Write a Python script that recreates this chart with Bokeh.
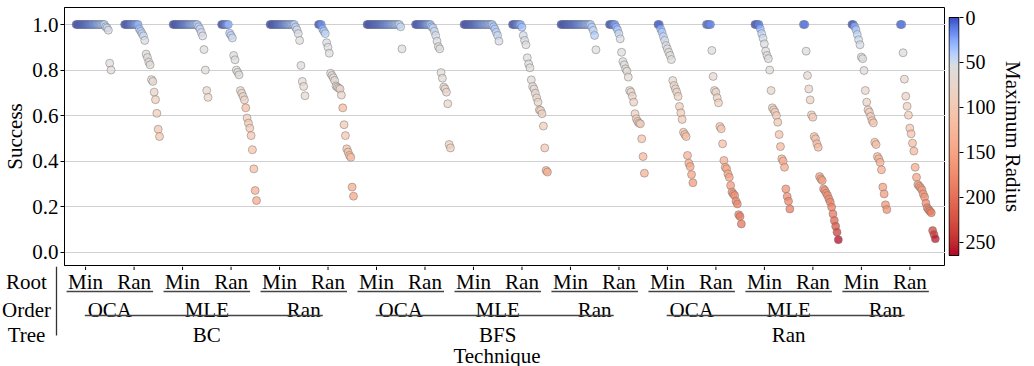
import numpy as np
from bokeh.plotting import figure
from bokeh.models import (ColumnDataSource, Range1d, LinearColorMapper, FixedTicker,
                          PrintfTickFormatter)
from bokeh.layouts import row, column
from bokeh.transform import transform
from bokeh.embed import file_html
from bokeh.resources import INLINE
from bokeh.core.properties import value

# ---------------- data ----------------
trees = ["BC", "BFS", "Ran"]
orders = ["OCA", "MLE", "Ran"]
roots = ["Min", "Ran"]
row_names = ["Root", "Order", "Tree"]
x_title = "Technique"
y_title = "Success"
cbar_title = "Maximum Radius"
y_ticks = [0.0, 0.2, 0.4, 0.6, 0.8, 1.0]
cbar_ticks = [0, 50, 100, 150, 200, 250]
radius_max = 265

# per tree: [OCA-Min, OCA-Ran, MLE-Min, MLE-Ran, Ran-Min, Ran-Ran]
bc_success = [
    [1.0, 1.0, 1.0, 1.0, 1.0, 1.0, 1.0, 1.0, 1.0, 1.0,
     1.0, 1.0, 1.0, 1.0, 1.0, 1.0, 1.0, 1.0, 1.0, 1.0,
     1.0, 1.0, 0.99, 0.985, 0.975, 0.83, 0.80],
    [1.0, 1.0, 1.0, 1.0, 1.0, 1.0, 1.0, 1.0, 1.0, 1.0, 1.0,
     0.98, 0.97, 0.96, 0.95, 0.93, 0.87, 0.855, 0.835, 0.823, 0.758,
     0.75, 0.703, 0.67, 0.61, 0.54, 0.508],
    [1.0, 1.0, 1.0, 1.0, 1.0, 1.0, 1.0, 1.0, 1.0, 1.0,
     1.0, 1.0, 1.0, 1.0, 1.0, 1.0, 1.0, 1.0, 1.0,
     0.99, 0.98, 0.965, 0.95, 0.89, 0.80, 0.71, 0.68],
    [1.0, 1.0, 1.0, 1.0, 1.0, 1.0,
     0.962, 0.952, 0.941, 0.864, 0.845, 0.80, 0.79, 0.779, 0.71, 0.698,
     0.684, 0.669, 0.634, 0.589, 0.567, 0.545, 0.512, 0.45, 0.366, 0.271,
     0.227],
    [1.0, 1.0, 1.0, 1.0, 1.0, 1.0, 1.0, 1.0, 1.0, 1.0,
     1.0, 1.0, 1.0, 1.0, 1.0, 1.0, 1.0, 1.0, 1.0,
     0.988, 0.977, 0.96, 0.93, 0.82, 0.75, 0.728, 0.687],
    [1.0, 1.0, 1.0,
     0.98, 0.97, 0.96, 0.92, 0.90, 0.874, 0.786, 0.776, 0.766, 0.754,
     0.73, 0.725, 0.72, 0.717, 0.69, 0.634, 0.56, 0.512, 0.454, 0.44,
     0.425, 0.417, 0.286, 0.246],
]
bc_radius = [
    [0, 1, 2, 3, 4, 5, 6, 8, 9, 11, 13, 15, 17, 19, 21, 24, 27, 30, 33, 36,
     39, 42, 45, 48, 52, 60, 62],
    [0, 2, 4, 6, 9, 12, 15, 18, 22, 26, 30,
     35, 40, 45, 48, 52, 57, 58, 60, 61, 66, 68, 82, 88, 95, 102, 106],
    [0, 1, 2, 3, 5, 6, 8, 10, 12, 14, 16, 19, 22, 25, 28, 31, 34, 37, 40,
     43, 46, 50, 52, 56, 62, 72, 75],
    [0, 5, 10, 16, 22, 30,
     38, 44, 48, 56, 57, 60, 61, 63, 72, 75, 80, 82, 120, 95, 98, 100, 104,
     110, 115, 135, 142],
    [0, 1, 2, 3, 4, 6, 8, 10, 12, 14, 16, 19, 22, 25, 28, 31, 34, 37, 40,
     45, 50, 52, 55, 60, 66, 70, 72],
    [0, 8, 18,
     30, 38, 44, 52, 55, 58, 63, 64, 65, 67, 70, 71, 72, 73, 78, 125, 98,
     104, 112, 115, 118, 120, 140, 145],
]
bfs_success = [
    [1.0, 1.0, 1.0, 1.0, 1.0, 1.0, 1.0, 1.0, 1.0, 1.0,
     1.0, 1.0, 1.0, 1.0, 1.0, 1.0, 1.0, 1.0, 1.0, 1.0,
     1.0, 1.0, 1.0, 1.0, 1.0, 0.99, 0.893],
    [1.0, 1.0, 1.0, 1.0, 1.0, 1.0, 1.0, 1.0, 1.0, 1.0, 1.0, 1.0,
     0.99, 0.985, 0.97, 0.952, 0.927, 0.903, 0.893, 0.789, 0.764, 0.725,
     0.717, 0.703, 0.652, 0.473, 0.458],
    [1.0, 1.0, 1.0, 1.0, 1.0, 1.0, 1.0, 1.0, 1.0, 1.0,
     1.0, 1.0, 1.0, 1.0, 1.0, 1.0, 1.0, 1.0, 1.0, 1.0,
     1.0, 1.0, 0.99, 0.98, 0.966, 0.952, 0.927],
    [1.0, 1.0, 1.0, 1.0, 1.0, 1.0, 1.0,
     0.988, 0.952, 0.93, 0.911, 0.854, 0.827, 0.81, 0.757, 0.728, 0.717,
     0.698, 0.678, 0.659, 0.625, 0.622, 0.608, 0.554, 0.458, 0.359, 0.352],
    [1.0, 1.0, 1.0, 1.0, 1.0, 1.0, 1.0, 1.0, 1.0, 1.0,
     1.0, 1.0, 1.0, 1.0, 1.0, 1.0, 1.0, 1.0, 1.0, 1.0,
     1.0, 1.0, 1.0, 0.988, 0.974, 0.952, 0.889],
    [1.0, 1.0, 1.0, 1.0, 1.0,
     0.988, 0.977, 0.96, 0.937, 0.878, 0.837, 0.823, 0.805, 0.795, 0.769,
     0.71, 0.703, 0.685, 0.659, 0.608, 0.586, 0.574, 0.567, 0.564, 0.498,
     0.42, 0.347],
]
bfs_radius = [
    [0, 1, 2, 3, 4, 5, 6, 7, 8, 9, 10, 12, 13, 15, 17, 19, 21, 23, 25, 28,
     31, 34, 37, 40, 43, 46, 55],
    [0, 2, 4, 6, 8, 10, 13, 16, 20, 24, 28, 33,
     40, 44, 48, 50, 53, 55, 56, 62, 64, 70, 72, 74, 78, 85, 88],
    [0, 1, 2, 3, 4, 5, 6, 7, 9, 11, 13, 15, 17, 19, 21, 23, 25, 27, 29, 31,
     34, 37, 38, 40, 43, 46, 52],
    [0, 4, 8, 12, 17, 22, 28,
     35, 50, 52, 55, 57, 58, 60, 63, 66, 68, 72, 75, 78, 82, 84, 86, 95, 105,
     135, 138],
    [0, 1, 2, 3, 4, 5, 6, 7, 8, 9, 10, 12, 14, 16, 18, 20, 22, 24, 27, 30,
     33, 36, 39, 42, 44, 40, 55],
    [0, 5, 10, 16, 22,
     30, 38, 46, 52, 56, 58, 59, 61, 62, 65, 72, 74, 78, 82, 88, 92, 94, 95,
     96, 110, 125, 132],
]
ran_success = [
    [1.0, 1.0,
     0.98, 0.966, 0.947, 0.93, 0.908, 0.893, 0.878, 0.864, 0.846, 0.754,
     0.732, 0.717, 0.703, 0.684, 0.64, 0.612, 0.583, 0.527, 0.517, 0.508,
     0.425, 0.391, 0.376, 0.341, 0.305],
    [1.0, 1.0, 1.0, 1.0,
     0.886, 0.772, 0.71, 0.703, 0.678, 0.656, 0.552, 0.542, 0.476, 0.403,
     0.373, 0.366, 0.344, 0.329, 0.293, 0.264, 0.256, 0.249, 0.224, 0.212,
     0.165, 0.157, 0.124],
    [1.0, 1.0, 1.0, 1.0,
     0.981, 0.96, 0.94, 0.915, 0.883, 0.864, 0.85, 0.80, 0.71, 0.634,
     0.625, 0.615, 0.60, 0.571, 0.517, 0.464, 0.41, 0.40, 0.373, 0.278,
     0.245, 0.224, 0.19],
    [1.0, 1.0,
     0.883, 0.776, 0.717, 0.669, 0.603, 0.593, 0.508, 0.498, 0.476, 0.461,
     0.332, 0.322, 0.315, 0.278, 0.271, 0.259, 0.249, 0.234, 0.22, 0.198,
     0.168, 0.139, 0.114, 0.088, 0.055],
    [1.0, 1.0,
     0.991, 0.977, 0.956, 0.933, 0.911, 0.857, 0.85, 0.798, 0.71, 0.659,
     0.625, 0.615, 0.596, 0.578, 0.568, 0.483, 0.473, 0.42, 0.41, 0.395,
     0.362, 0.286, 0.256, 0.208, 0.187],
    [1.0, 1.0,
     0.876, 0.76, 0.685, 0.641, 0.602, 0.545, 0.52, 0.479, 0.444, 0.373,
     0.329, 0.297, 0.29, 0.283, 0.274, 0.256, 0.242, 0.215, 0.195, 0.187,
     0.18, 0.173, 0.095, 0.078, 0.059],
]
ran_radius = [
    [2, 8,
     28, 38, 44, 50, 53, 55, 57, 58, 60, 72, 75, 78, 80, 84, 92, 96, 100,
     110, 112, 115, 132, 140, 145, 150, 158],
    [10, 12, 14, 16,
     58, 70, 78, 80, 84, 88, 104, 106, 118, 132, 140, 142, 148, 152, 160,
     166, 168, 170, 176, 180, 188, 190, 196],
    [1, 4, 8, 14,
     30, 44, 50, 53, 56, 58, 60, 64, 76, 90, 92, 94, 97, 102, 112, 122, 134,
     136, 142, 168, 175, 180, 188],
    [10, 12,
     58, 68, 76, 84, 94, 96, 112, 114, 118, 122, 150, 152, 155, 165, 168,
     170, 172, 176, 182, 188, 196, 210, 222, 238, 262],
    [2, 6,
     28, 38, 44, 48, 52, 57, 58, 62, 74, 84, 90, 92, 96, 100, 102, 116, 118,
     126, 128, 132, 140, 152, 158, 165, 170],
    [10, 12,
     58, 72, 82, 88, 94, 104, 108, 116, 124, 140, 150, 156, 158, 160, 162,
     166, 170, 176, 182, 184, 186, 188, 232, 242, 258],
]

all_success = bc_success + bfs_success + ran_success
all_radius = bc_radius + bfs_radius + ran_radius

# ---------------- styling constants ----------------
FONT_NAME = "Liberation Serif"
FONT = value(FONT_NAME)
FS = "21px"
X0, X1 = -0.6, 17.57
Y0, Y1 = -0.0584, 1.0747
FW, FH = 881, 258
LEFT = 56
TOP = 7
PPU = FW / (X1 - X0)
HALF = 0.36

# coolwarm (Moreland) anchors
CW = [(59, 76, 192), (68, 90, 204), (77, 104, 215), (87, 117, 225), (98, 130, 234),
      (108, 142, 241), (119, 154, 247), (130, 165, 251), (141, 176, 254),
      (152, 185, 255), (163, 194, 255), (174, 201, 253), (184, 208, 249),
      (194, 213, 244), (204, 217, 238), (213, 219, 230), (221, 221, 221),
      (229, 216, 209), (236, 211, 197), (241, 204, 185), (245, 196, 173),
      (247, 187, 160), (247, 177, 148), (247, 166, 135), (244, 154, 123),
      (241, 141, 111), (236, 127, 99), (229, 112, 88), (222, 96, 77),
      (213, 80, 66), (203, 62, 56), (192, 40, 47), (180, 4, 38)]


def coolwarm(t):
    t = min(max(t, 0.0), 1.0) * 32
    i = min(int(t), 31)
    f = t - i
    c0, c1 = CW[i], CW[i + 1]
    return "#%02x%02x%02x" % tuple(int(round(a + (b - a) * f)) for a, b in zip(c0, c1))


CENTER = 55.0


def norm(v):
    if v < CENTER:
        return 0.5 * v / CENTER
    return 0.5 + 0.5 * (v - CENTER) / (radius_max - CENTER)


palette = [coolwarm(norm((k + 0.5) / 256 * radius_max)) for k in range(256)]
mapper = LinearColorMapper(palette=palette, low=0, high=radius_max)

# ---------------- point positions ----------------
xs, ys, rs = [], [], []
for g, (sv, rv) in enumerate(zip(all_success, all_radius)):
    if len(sv) != len(rv):
        raise ValueError("length mismatch in group %d: %d vs %d" % (g, len(sv), len(rv)))
    n = len(sv)
    for i, (s, r) in enumerate(zip(sv, rv)):
        xs.append(g - HALF + 2 * HALF * i / (n - 1))
        ys.append(s)
        rs.append(r)
src = ColumnDataSource(dict(x=xs, y=ys, r=rs))


def style_axis(ax, label, tick_fs, label_fs):
    ax.axis_label = label
    ax.axis_label_text_font = FONT_NAME
    ax.axis_label_text_font_size = label_fs
    ax.axis_label_text_font_style = "normal"
    ax.axis_label_text_color = "black"
    ax.major_label_text_font = FONT_NAME
    ax.major_label_text_font_size = tick_fs
    ax.major_label_text_color = "black"
    ax.major_tick_out = 4
    ax.major_tick_in = 0
    ax.minor_tick_line_color = None


# ---------------- main figure ----------------
A = figure(x_range=Range1d(X0, X1), y_range=Range1d(Y0, Y1),
           frame_width=FW, frame_height=FH,
           min_border_left=LEFT, min_border_right=0, min_border_top=TOP, min_border_bottom=1,
           output_backend="svg", toolbar_location=None,
           background_fill_color="white", border_fill_color="white",
           outline_line_color="black", outline_line_width=1)
A.xaxis.visible = False
A.xgrid.visible = False
A.ygrid.ticker = FixedTicker(ticks=y_ticks)
A.ygrid.grid_line_color = "#d0d0d0"
A.ygrid.grid_line_width = 1
ya = A.yaxis[0]
ya.ticker = FixedTicker(ticks=y_ticks)
ya.formatter = PrintfTickFormatter(format="%.1f")
style_axis(ya, y_title, FS, FS)
ya.axis_label_standoff = 2
ya.major_label_standoff = 2
ya.axis_line_color = "black"

A.scatter("x", "y", source=src, size=8,
          fill_color=transform("r", mapper), fill_alpha=0.75,
          line_color="#707070", line_alpha=0.6, line_width=0.8)

# ---------------- colour bar figure (frame same height as main frame) ----------------
CB_TOP_PX, CB_BOT_PX = 10, 248          # bar edges inside the frame (pixels from top)
cppu = (CB_BOT_PX - CB_TOP_PX) / radius_max
C = figure(x_range=Range1d(-0.05, 1.05),
           y_range=Range1d(radius_max + (FH - CB_BOT_PX) / cppu, -CB_TOP_PX / cppu),
           frame_width=11, frame_height=FH,
           min_border_left=3, min_border_right=0, min_border_top=TOP, min_border_bottom=1,
           y_axis_location="right",
           output_backend="svg", toolbar_location=None,
           background_fill_color="white", border_fill_color="white",
           outline_line_color=None)
C.xaxis.visible = False
C.grid.visible = False
grad = np.linspace(0, radius_max, 256).reshape(-1, 1)
C.image(image=[grad], x=0, y=0, dw=1, dh=radius_max, color_mapper=mapper)
C.segment(x0=[0, 1, 0, 0], y0=[0, 0, 0, radius_max], x1=[0, 1, 1, 1],
          y1=[radius_max, radius_max, 0, radius_max], line_color="black", line_width=1)
ca = C.yaxis[0]
ca.ticker = FixedTicker(ticks=cbar_ticks)
style_axis(ca, cbar_title, "20px", "21px")
ca.axis_label_standoff = 2
ca.major_label_standoff = 2
ca.axis_line_color = None

# ---------------- hierarchical label panel ----------------
BH = 100
BX0 = X0 - LEFT / PPU
B = figure(x_range=Range1d(BX0, X1), y_range=Range1d(BH, 0),
           frame_width=LEFT + FW, frame_height=BH,
           min_border_left=0, min_border_right=0, min_border_top=0, min_border_bottom=0,
           output_backend="svg", toolbar_location=None,
           background_fill_color="white", border_fill_color="white",
           outline_line_color=None)
B.axis.visible = False
B.grid.visible = False

n_groups = len(all_success)
gx = list(range(n_groups))
root_text = [roots[g % 2] for g in gx]
order_x = [2 * k + 0.5 for k in range(len(trees) * len(orders))]
order_text = [orders[k % 3] for k in range(len(trees) * len(orders))]
tree_x = [6 * t + 2.5 for t in range(len(trees))]
txt_kw = dict(text_font=FONT, text_font_size=FS, text_color="black",
              text_align="center", text_baseline="alphabetic")

# tick marks of the x axis
B.segment(x0=gx, y0=0, x1=gx, y1=3.5, line_color="black", line_width=1)
# separator line continuing the y axis
B.segment(x0=[X0], y0=[0], x1=[X0], y1=[69], line_color="#333333", line_width=1.3)

B.text(x=gx, y=15, text=root_text, **txt_kw)
B.text(x=order_x, y=43, text=order_text, **txt_kw)
B.text(x=tree_x, y=68, text=trees, **txt_kw)
B.text(x=[(X0 + X1) / 2], y=89, text=[x_title], **txt_kw)
B.text(x=[BX0 + 26 / PPU] * 3, y=[15, 43, 68], text=row_names, **txt_kw)

# underlines: pairs (Min..Ran) and trees (OCA..Ran)
W_MIN, W_RAN, W_OCA = 38, 38, 50
u1x0 = [2 * k - (W_MIN / 2) / PPU for k in range(9)]
u1x1 = [2 * k + 1 + (W_RAN / 2) / PPU for k in range(9)]
B.segment(x0=u1x0, y0=25, x1=u1x1, y1=25, line_color="#444444", line_width=1.5)
u2x0 = [6 * t + 0.5 - (W_OCA / 2) / PPU for t in range(3)]
u2x1 = [6 * t + 4.5 + (W_RAN / 2) / PPU for t in range(3)]
B.segment(x0=u2x0, y0=49, x1=u2x1, y1=49, line_color="#444444", line_width=1.5)

layout = column(row(A, C, spacing=0), B, spacing=0)
open("out.html", "w").write(file_html(layout, INLINE))
